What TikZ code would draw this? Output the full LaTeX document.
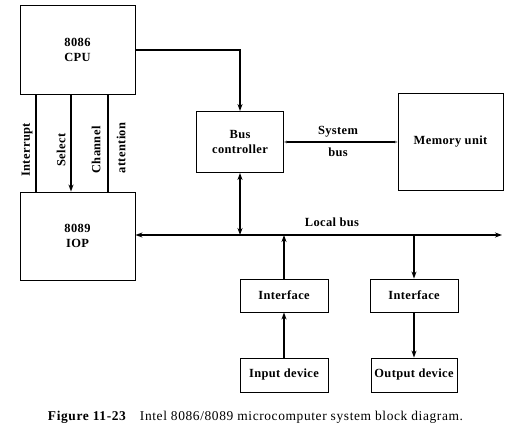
\documentclass[tikz,border=0pt]{standalone}
\usepackage{fontspec}
\setmainfont{Liberation Serif}
\usetikzlibrary{arrows.meta}
\begin{document}
\begin{tikzpicture}[x=1bp,y=-1bp,
  txt/.style={font=\bfseries\fontsize{12.5}{15}\selectfont\addfontfeatures{LetterSpace=3}},
  box/.style={draw, line width=0.9bp, inner sep=0pt, align=center, txt},
  bus/.style={line width=2bp},
  tip/.style={-{Stealth[length=7pt,width=5pt]}},
  dtip/.style={{Stealth[length=7pt,width=5pt]}-{Stealth[length=7pt,width=5pt]}},
  ftip/.style={{Stealth[length=3pt,width=3pt,gray]}-{Stealth[length=3pt,width=3pt,gray]}}]
\useasboundingbox (0,0) rectangle (529,441);
% boxes
\node[box, minimum width=115bp, minimum height=89bp] (cpu) at (77.5,50) {8086\\CPU};
\node[box, minimum width=115bp, minimum height=88bp] (iop) at (77.5,236) {8089\\IOP};
\node[box, minimum width=87bp, minimum height=61bp] (bc) at (240,142) {Bus\\controller};
\node[box, minimum width=105bp, minimum height=97bp] (mem) at (450.5,142) {Memory unit};
\node[box, minimum width=88bp, minimum height=33bp] (if1) at (284,295.5) {Interface};
\node[box, minimum width=88bp, minimum height=33bp] (if2) at (414,295.5) {Interface};
\node[box, minimum width=88bp, minimum height=34bp] (in) at (284,375) {Input device};
\node[box, minimum width=86bp, minimum height=34bp] (out) at (414,375) {Output device};
% local bus
\coordinate (lbR) at (502,235);
\draw[bus, dtip] (iop.east |- lbR) -- (lbR);
\node[txt] (lbl) at (332,222) {Local bus};
% CPU to bus controller
\draw[bus, tip] (cpu.east) -- (cpu.east -| bc.north) -- (bc.north);
% bus controller to local bus
\draw[bus, dtip] (bc.south) -- (bc.south |- lbR);
% system bus
\draw[bus, ftip] (bc.east) -- (bc.east -| mem.west);
\node[txt] (sys1) at (338,132) {System};
\node[txt] (sys2) at (338,152) {bus};
% I/O
\draw[bus, tip] (if1.north) -- (if1.north |- lbR);
\draw[bus, tip] (in.north) -- (if1.south);
\draw[bus, tip] (if2.north |- lbR) -- (if2.north);
\draw[bus, tip] (if2.south) -- (out.north);
% CPU-IOP signals
\coordinate (xi) at (36,0);
\coordinate (xs) at (71,0);
\coordinate (xc) at (108,0);
\draw[bus] (iop.north -| xi) -- (cpu.south -| xi);
\draw[bus, tip] (cpu.south -| xs) -- (iop.north -| xs);
\draw[bus] (cpu.south -| xc) -- (iop.north -| xc);
\node[txt, rotate=90] (l1) at (27,150) {Interrupt};
\node[txt, rotate=90] (l2) at (61,150) {Select};
\node[txt, rotate=90] (l3) at (96,150) {Channel};
\node[txt, rotate=90] (l4) at (121,148) {attention};
% caption
\node[font=\fontsize{13.5}{16}\selectfont\addfontfeatures{LetterSpace=4.5}] (cap) at (255.5,417) {\textbf{Figure 11-23}\quad Intel 8086/8089 microcomputer system block diagram.};
\end{tikzpicture}
\end{document}
